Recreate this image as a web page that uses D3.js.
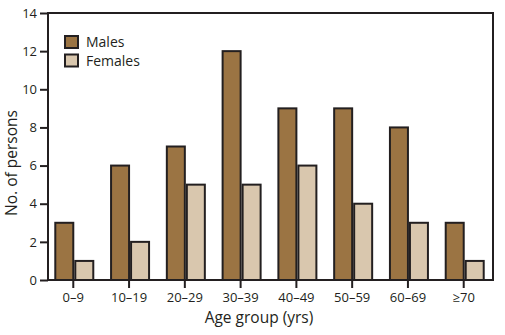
<!DOCTYPE html>
<html>
<head>
<meta charset="utf-8">
<script src="https://cdn.jsdelivr.net/npm/d3@7"></script>
<style>
  body { margin: 0; background: #fff; }
  svg { display: block; }
  text { font-family: "Open Sans", "Noto Sans", sans-serif; fill: #231f20; }
</style>
</head>
<body>
<svg width="505" height="335"></svg>
<script>
// *** Data ***
var ageGroups = ["0\u20139", "10\u201319", "20\u201329", "30\u201339", "40\u201349", "50\u201359", "60\u201369", "\u226570"];
var series = ["Males", "Females"];
var males = [3, 6, 7, 12, 9, 9, 8, 3];
var females = [1, 2, 5, 5, 6, 4, 3, 1];
var yTicks = [0, 2, 4, 6, 8, 10, 12, 14];

var colors = { "Males": "#9b7443", "Females": "#d9c7ae" };
var ink = "#231f20";

var svg = d3.select("svg");
var plotLeft = 48, plotRight = 493, plotTop = 13, plotBottom = 280;

// *** Scales ***
var x0 = d3.scaleBand()
    .domain(ageGroups)
    .range([45.4, 491.6]);

var x1 = d3.scaleBand()
    .domain(series)
    .range([-18, 20])
    .paddingInner(0.1);

var y = d3.scaleLinear()
    .domain([0, 14])
    .range([plotBottom, plotTop]);

var rows = ageGroups.map(function (g, i) {
    return { group: g, Males: males[i], Females: females[i] };
});

// *** Bars ***
var groups = svg.selectAll("g.group")
    .data(rows)
    .enter()
    .append("g")
    .attr("class", "group")
    .attr("transform", function (d) {
        return "translate(" + (x0(d.group) + x0.bandwidth() / 2) + ",0)";
    });

groups.selectAll("rect")
    .data(function (d) {
        return series.map(function (s) { return { key: s, value: d[s] }; });
    })
    .enter()
    .append("rect")
    .attr("x", function (d) { return x1(d.key); })
    .attr("width", x1.bandwidth())
    .attr("y", function (d) { return y(d.value); })
    .attr("height", function (d) { return y(0) - y(d.value); })
    .attr("fill", function (d) { return colors[d.key]; })
    .attr("stroke", ink)
    .attr("stroke-width", 2);

// *** Frame ***
svg.append("rect")
    .attr("x", plotLeft)
    .attr("y", plotTop)
    .attr("width", plotRight - plotLeft)
    .attr("height", plotBottom - plotTop)
    .attr("fill", "none")
    .attr("stroke", ink)
    .attr("stroke-width", 2);

// *** Axes ***
var yAxis = d3.axisLeft(y)
    .tickValues(yTicks)
    .tickSize(8)
    .tickPadding(3);

var yg = svg.append("g")
    .attr("transform", "translate(" + plotLeft + ",0)")
    .call(yAxis);

var xAxis = d3.axisBottom(x0)
    .tickSize(8)
    .tickPadding(5);

var xg = svg.append("g")
    .attr("transform", "translate(0," + plotBottom + ")")
    .call(xAxis);

[yg, xg].forEach(function (g) {
    g.select(".domain").remove();
    g.selectAll(".tick line").attr("stroke", ink).attr("stroke-width", 2);
    g.selectAll(".tick text")
        .style("font-family", "'Open Sans', sans-serif")
        .style("font-size", "13px")
        .attr("fill", ink);
});

// *** Axis titles ***
svg.append("text")
    .attr("x", 259)
    .attr("y", 323)
    .attr("text-anchor", "middle")
    .style("font-size", "15.5px")
    .text("Age group (yrs)");

svg.append("text")
    .attr("transform", "translate(17,163) rotate(-90)")
    .attr("text-anchor", "middle")
    .style("font-size", "15.5px")
    .text("No. of persons");

// *** Legend ***
var legend = svg.selectAll("g.legend")
    .data(series)
    .enter()
    .append("g")
    .attr("class", "legend")
    .attr("transform", function (d, i) {
        return "translate(65," + (36 + i * 18.5) + ")";
    });

legend.append("rect")
    .attr("width", 13)
    .attr("height", 12)
    .attr("fill", function (d) { return colors[d]; })
    .attr("stroke", ink)
    .attr("stroke-width", 2);

legend.append("text")
    .attr("x", 21)
    .attr("y", 11)
    .style("font-size", "14px")
    .text(function (d) { return d; });
</script>
</body>
</html>
